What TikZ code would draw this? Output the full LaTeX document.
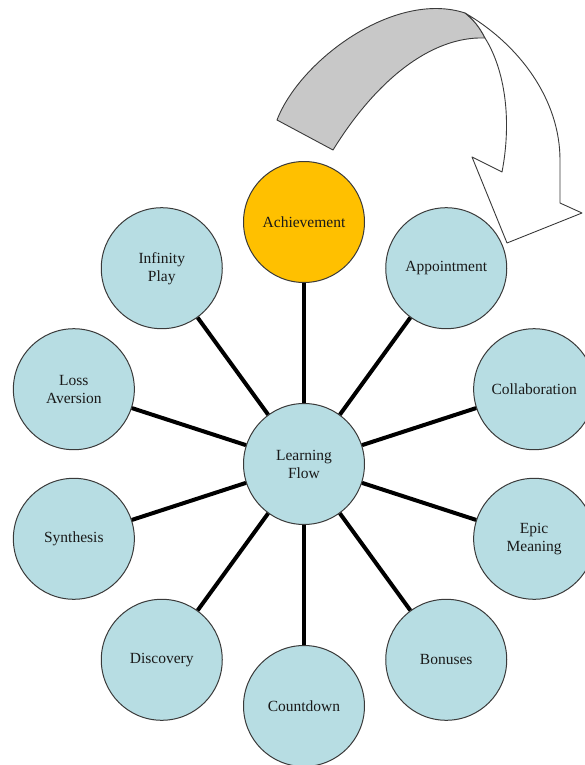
\documentclass[tikz,border=0pt]{standalone}
\usepackage{fontspec}
\setmainfont{Liberation Serif}
\definecolor{bubblefill}{HTML}{B7DDE3}
\definecolor{goldfill}{HTML}{FFC000}
\definecolor{arrowgray}{HTML}{C8C8C8}
\definecolor{rimgray}{HTML}{3A3A3A}
\begin{document}
\begin{tikzpicture}[x=1pt,y=1pt,
  bubble/.style={circle, draw=rimgray, line width=1pt, fill=bubblefill,
    minimum size=121pt, inner sep=0pt, align=center,
    font=\fontsize{15.5}{18}\selectfont, text=black!90},
  goldbubble/.style={bubble, fill=goldfill},
  spoke/.style={line width=4pt, black},
  arrowline/.style={draw=rimgray, line width=0.9pt, line join=round}]
\useasboundingbox (0,0) rectangle (584,-765);

% curved arrow: back face (gray)
\draw[arrowline, fill=arrowgray]
  (277,-120) .. controls (300,-60) and (395,10) .. (465,-13)
  .. controls (474,-20) and (480,-28) .. (485,-38)
  .. controls (430,-36) and (375,-82) .. (333,-150)
  -- cycle;
% curved arrow: front face with head (white)
\draw[arrowline, fill=white]
  (465,-13) .. controls (520,-45) and (560,-100) .. (560,-160)
  -- (560,-203) -- (582,-213) -- (507,-243) -- (472,-157) -- (502,-172)
  .. controls (512,-120) and (505,-70) .. (485,-38)
  .. controls (480,-28) and (474,-20) .. (465,-13)
  -- cycle;

% hub and ring of bubbles
\node[bubble] (flow) at (304,-464) {Learning\\Flow};
\begin{scope}[shift={(304,-464)}]
  \node[goldbubble] (ach) at (90:242)  {Achievement};
  \node[bubble] (app) at (54:242)  {Appointment};
  \node[bubble] (col) at (18:242)  {Collaboration};
  \node[bubble] (epi) at (-18:242) {Epic\\Meaning};
  \node[bubble] (bon) at (-54:242) {Bonuses};
  \node[bubble] (cou) at (-90:242) {Countdown};
  \node[bubble] (dis) at (-126:242) {Discovery};
  \node[bubble] (syn) at (-162:242) {Synthesis};
  \node[bubble] (los) at (162:242) {Loss\\Aversion};
  \node[bubble] (inf) at (126:242) {Infinity\\Play};
\end{scope}

% spokes
\foreach \n in {ach,app,col,epi,bon,cou,dis,syn,los,inf}
  \draw[spoke] (flow) -- (\n);
\end{tikzpicture}
\end{document}
